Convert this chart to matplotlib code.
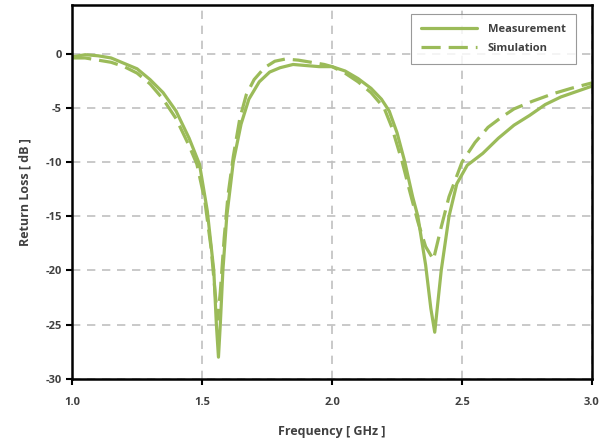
"""
Return loss: Messung vs. Simulation (Dual-Band-Antenne).
"""
import matplotlib
matplotlib.use("Agg")
import matplotlib.pyplot as plt

# Messung
meas_freq = [1.00, 1.05, 1.10, 1.15, 1.20, 1.25, 1.30, 1.35, 1.40, 1.45, 1.49,
             1.52, 1.545, 1.555, 1.563, 1.57, 1.58, 1.595, 1.62, 1.65, 1.68,
             1.72, 1.76, 1.80, 1.85, 1.90, 1.95, 2.00, 2.05, 2.10, 2.15, 2.19,
             2.22, 2.25, 2.28, 2.31, 2.33, 2.36, 2.38, 2.395, 2.42, 2.45, 2.48,
             2.52, 2.58, 2.64, 2.70, 2.76, 2.82, 2.88, 2.94, 3.00]
meas_rl = [-0.3, -0.1, -0.2, -0.4, -0.9, -1.4, -2.4, -3.6, -5.3, -7.8, -10.2,
           -14.5, -20.0, -25.0, -28.0, -25.0, -20.0, -15.0, -10.0, -6.5, -4.2,
           -2.6, -1.7, -1.3, -1.0, -1.1, -1.2, -1.2, -1.6, -2.3, -3.2, -4.2,
           -5.3, -7.3, -10.0, -13.2, -15.0, -19.5, -23.5, -25.7, -20.0, -15.0, -12.0,
           -10.3, -9.2, -7.8, -6.6, -5.7, -4.7, -4.0, -3.5, -3.0]

# Simulation
sim_freq = [1.00, 1.05, 1.10, 1.15, 1.20, 1.25, 1.30, 1.35, 1.40, 1.45, 1.48,
            1.51, 1.535, 1.55, 1.56, 1.57, 1.585, 1.60, 1.62, 1.645, 1.67,
            1.70, 1.74, 1.78, 1.82, 1.87, 1.92, 1.97, 2.00, 2.05, 2.10, 2.15,
            2.20, 2.23, 2.27, 2.30, 2.33, 2.36, 2.39, 2.42, 2.45, 2.50, 2.55,
            2.60, 2.65, 2.70, 2.77, 2.85, 2.92, 3.00]
sim_rl = [-0.4, -0.4, -0.6, -0.8, -1.2, -1.8, -2.8, -4.2, -6.0, -8.5, -10.2,
          -13.5, -18.0, -22.0, -24.5, -22.0, -17.0, -13.0, -9.5, -6.0, -3.8,
          -2.4, -1.3, -0.7, -0.5, -0.6, -0.8, -1.0, -1.2, -1.8, -2.6, -3.6,
          -5.0, -6.8, -10.0, -12.8, -15.5, -17.8, -19.0, -16.0, -13.2, -10.0, -8.2,
          -6.8, -5.9, -5.1, -4.4, -3.7, -3.2, -2.7]

x_ticks = [1.0, 1.5, 2.0, 2.5, 3.0]
y_ticks = [0, -5, -10, -15, -20, -25, -30]

green = "#9bbb59"
text_col = "#404040"
font = "Open Sans"

fig = plt.figure(figsize=(6.01, 4.40), dpi=100)
ax = fig.add_axes([0.12, 0.139, 0.865, 0.85])

ax.plot(meas_freq, meas_rl, color=green, lw=2.3, label="Measurement",
        solid_capstyle="round", solid_joinstyle="round")
ax.plot(sim_freq, sim_rl, color=green, lw=2.3, dashes=(6, 2.5), label="Simulation")

ax.set_xlim(1.0, 3.0)
ax.set_ylim(-30, 4.5)
ax.set_xticks(x_ticks)
ax.set_yticks(y_ticks)
ax.set_xticklabels([f"{v:.1f}" for v in x_ticks])
ax.set_yticklabels([str(v) for v in y_ticks])

ax.grid(True, color="#c0c0c0", linestyle=(0, (5, 4)), linewidth=1.2)
ax.set_axisbelow(True)

for s in ax.spines.values():
    s.set_linewidth(1.8)
    s.set_color("black")

ax.tick_params(axis="both", direction="out", length=4, width=1.5, color="black",
               labelsize=8, labelcolor=text_col)
ax.tick_params(axis="x", pad=9)
for lbl in ax.get_xticklabels() + ax.get_yticklabels():
    lbl.set_fontfamily(font)
    lbl.set_fontweight("bold")

ax.set_xlabel("Frequency [ GHz ]", fontsize=9, fontfamily=font,
              fontweight="bold", color=text_col, labelpad=12)
ax.set_ylabel("Return Loss [ dB ]", fontsize=9, fontfamily=font,
              fontweight="bold", color=text_col, labelpad=10)

leg = ax.legend(loc="upper right", bbox_to_anchor=(0.975, 0.985),
                frameon=True, fancybox=False, edgecolor="#808080",
                handlelength=5.0, handletextpad=1.0, borderpad=0.9,
                labelspacing=0.7, borderaxespad=0.3,
                prop={"family": font, "weight": "bold", "size": 8})
leg.get_frame().set_linewidth(0.8)
for t in leg.get_texts():
    t.set_color(text_col)

fig.savefig("out.png", dpi=100)
plt.close(fig)
